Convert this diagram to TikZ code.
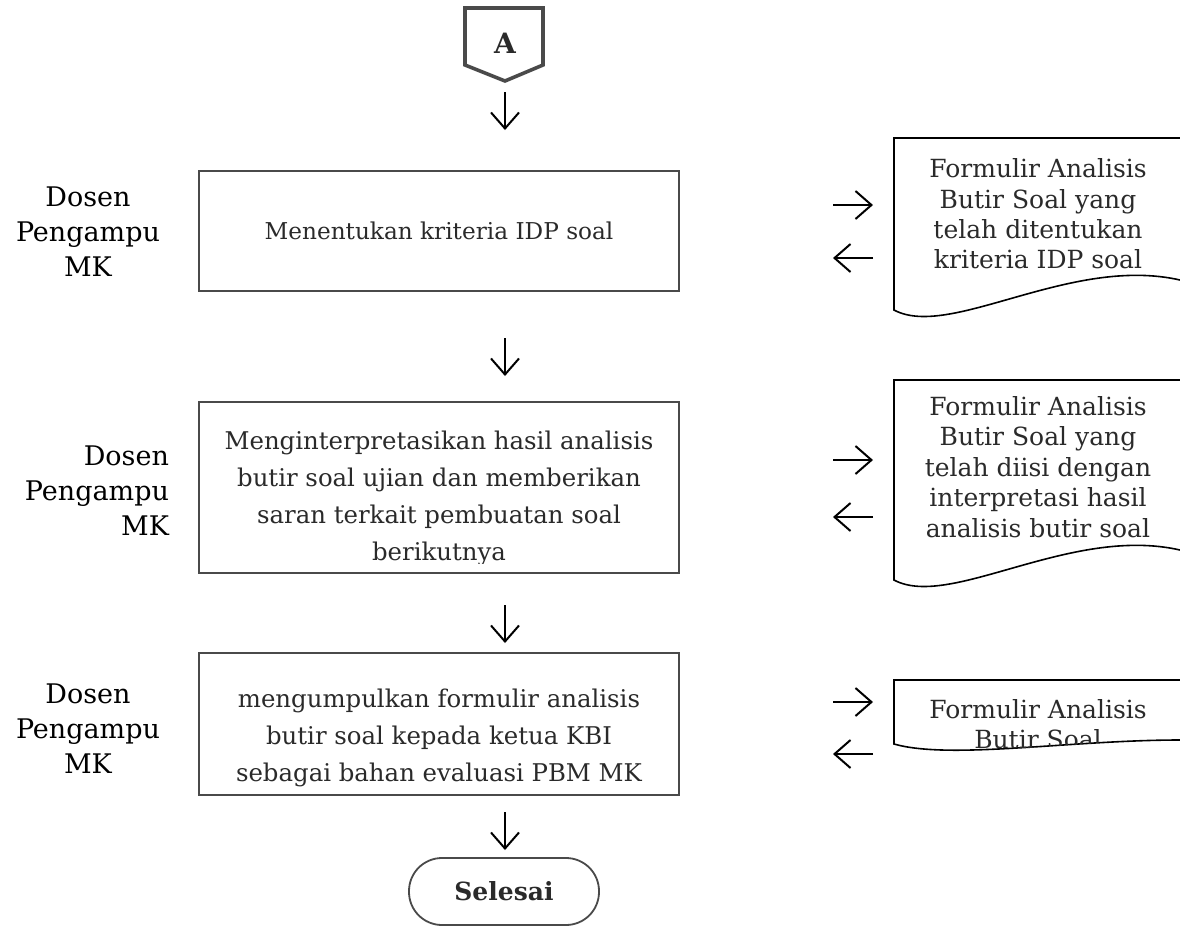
\documentclass[tikz,border=0pt]{standalone}
\usepackage{fontspec}
\setmainfont{DejaVu Serif}
\usetikzlibrary{arrows.meta}
\definecolor{garis}{HTML}{4A4A4A}
\definecolor{teks}{HTML}{2A2A2A}
\begin{document}
\begin{tikzpicture}[x=0.5pt,y=-0.5pt,
        kotak/.style = {draw=garis, line width=0.8pt, minimum width=240pt, inner sep=0pt},
        isi/.style = {align=center, text=teks, font=\fontsize{12.2}{18.5}\selectfont},
        dok/.style = {draw=black, line width=0.8pt},
        isidok/.style = {align=center, text=teks, font=\fontsize{12.5}{15.2}\selectfont},
        pelaku/.style = {font=\fontsize{13.5}{17.5}\selectfont},
        panah/.style = {line width=1pt, -{Straight Barb[length=8pt,width=14pt]}}]
    \useasboundingbox (0,0) rectangle (1180,927);

    \draw[garis, line width=1.8pt, line join=miter] (465,8) -- (543,8) -- (543,65) -- (505,81) -- (465,65) -- cycle;
    \node[font=\bfseries\fontsize{14}{16}\selectfont, text=teks] (konA) at (505,43) {A};

    \node[kotak, minimum height=60pt] (langkah1) at (439,231) {};
    \node[isi, font=\fontsize{11.6}{18.5}\selectfont] (isi1) at (439,231) {Menentukan kriteria IDP soal};

    \node[kotak, minimum height=85.5pt] (langkah2) at (439,487.5) {};
    \begin{scope}
        \clip (langkah2.north west) rectangle ([yshift=5pt]langkah2.south east);
        \node[isi] (isi2) at (439,498) {Menginterpretasikan hasil analisis\\butir soal ujian dan memberikan\\saran terkait pembuatan soal\\berikutnya};
    \end{scope}

    \node[kotak, minimum height=71pt] (langkah3) at (439,724) {};
    \node[isi] (isi3) at (439,738) {mengumpulkan formulir analisis\\butir soal kepada ketua KBI\\sebagai bahan evaluasi PBM MK};

    \node[pelaku, align=center] (dosen1) at (88,232) {Dosen\\Pengampu\\MK};
    \node[pelaku, align=right, anchor=east] (dosen2) at (176,491) {Dosen\\Pengampu\\MK};
    \node[pelaku, align=center] (dosen3) at (88,729) {Dosen\\Pengampu\\MK};

    \draw[dok] (1180,138) -- (894,138) -- (894,310) .. controls (950,340) and (1070,255) .. (1180,280);
    \node[isidok] (form1) at (1038,214) {Formulir Analisis\\Butir Soal yang\\telah ditentukan\\kriteria IDP soal};

    \draw[dok] (1180,380) -- (894,380) -- (894,580) .. controls (950,610) and (1070,525) .. (1180,550);
    \node[isidok] (form2) at (1038,467) {Formulir Analisis\\Butir Soal yang\\telah diisi dengan\\interpretasi hasil\\analisis butir soal};

    \draw[dok] (1180,680) -- (894,680) -- (894,744) .. controls (950,760) and (1070,740) .. (1180,740);
    \begin{scope}
        \clip (894,680) -- (894,744) .. controls (950,760) and (1070,740) .. (1180,740) -- (1180,680) -- cycle;
        \node[isidok] (form3) at (1038,724) {Formulir Analisis\\Butir Soal};
    \end{scope}

    \node[draw=garis, line width=0.9pt, rounded corners=16.5pt, minimum width=95pt, minimum height=33.5pt,
        font=\bfseries\fontsize{12.5}{15}\selectfont, text=teks] (selesai) at (504,891.5) {Selesai};

    \coordinate (p1a) at (505,92);   \coordinate (p1b) at (505,130);
    \coordinate (p2a) at (505,338);  \coordinate (p2b) at (505,376);
    \coordinate (p3a) at (505,605);  \coordinate (p3b) at (505,643);
    \coordinate (p4a) at (505,812);  \coordinate (p4b) at (505,850);
    \draw[panah] (p1a) -- (p1b);
    \draw[panah] (p2a) -- (p2b);
    \draw[panah] (p3a) -- (p3b);
    \draw[panah] (p4a) -- (p4b);

    \coordinate (k1) at (833,205);  \coordinate (d1) at (873,205);
    \coordinate (k2) at (833,258);  \coordinate (d2) at (873,258);
    \coordinate (k3) at (833,460);  \coordinate (d3) at (873,460);
    \coordinate (k4) at (833,517);  \coordinate (d4) at (873,517);
    \coordinate (k5) at (833,702);  \coordinate (d5) at (873,702);
    \coordinate (k6) at (833,754);  \coordinate (d6) at (873,754);
    \draw[panah] (k1) -- (d1);
    \draw[panah] (d2) -- (k2);
    \draw[panah] (k3) -- (d3);
    \draw[panah] (d4) -- (k4);
    \draw[panah] (k5) -- (d5);
    \draw[panah] (d6) -- (k6);
\end{tikzpicture}
\end{document}
